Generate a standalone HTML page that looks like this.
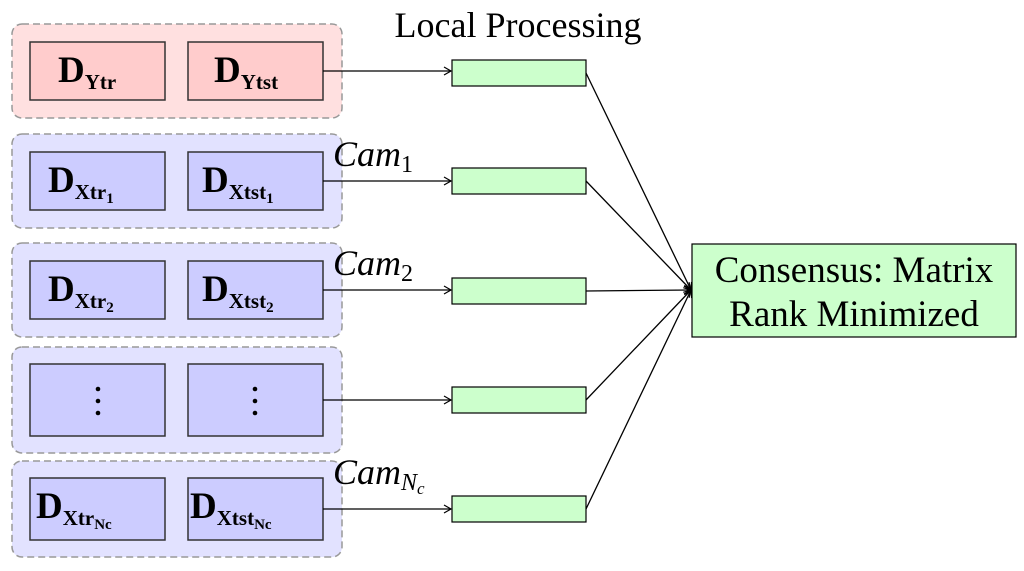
<!DOCTYPE html>
<html><head><style>body{margin:0;background:#fff}svg{display:block}</style></head><body>
<svg width="1024" height="571" viewBox="0 0 1024 571" xmlns="http://www.w3.org/2000/svg" font-family="Liberation Serif, serif">
<defs><marker id="a" markerWidth="10" markerHeight="10" refX="8" refY="5" orient="auto" markerUnits="userSpaceOnUse"><path d="M1,1 L8,5 L1,9" fill="none" stroke="#000" stroke-width="1.2"/></marker></defs>
<g stroke="#999" stroke-width="1.5" stroke-dasharray="7,4">
<rect x="12" y="24" width="330" height="94" rx="10" fill="#ffe0e0"/>
<rect x="12" y="134" width="330" height="94" rx="10" fill="#e2e2ff"/>
<rect x="12" y="243" width="330" height="94" rx="10" fill="#e2e2ff"/>
<rect x="12" y="347" width="330" height="106" rx="10" fill="#e2e2ff"/>
<rect x="12" y="461" width="330" height="96" rx="10" fill="#e2e2ff"/>
</g>
<g stroke="#333" stroke-width="1.5">
<rect x="30" y="42" width="135" height="58" fill="#ffcccc"/><rect x="188" y="42" width="135" height="58" fill="#ffcccc"/>
<rect x="30" y="152" width="135" height="58" fill="#ccccff"/><rect x="188" y="152" width="135" height="58" fill="#ccccff"/>
<rect x="30" y="261" width="135" height="58" fill="#ccccff"/><rect x="188" y="261" width="135" height="58" fill="#ccccff"/>
<rect x="30" y="364" width="135" height="72" fill="#ccccff"/><rect x="188" y="364" width="135" height="72" fill="#ccccff"/>
<rect x="30" y="478" width="135" height="62" fill="#ccccff"/><rect x="188" y="478" width="135" height="62" fill="#ccccff"/>
</g>
<g stroke="#000" stroke-width="1.2" fill="#ccffcc">
<rect x="452" y="60" width="134" height="26"/><rect x="452" y="168" width="134" height="26"/><rect x="452" y="278" width="134" height="26"/><rect x="452" y="387" width="134" height="26"/><rect x="452" y="496" width="134" height="26"/>
<rect x="692" y="244" width="324" height="93"/>
</g>
<g stroke="#000" stroke-width="1.3" marker-end="url(#a)">
<line x1="323" y1="71" x2="451" y2="71"/><line x1="323" y1="181" x2="451" y2="181"/><line x1="323" y1="290" x2="451" y2="290"/><line x1="323" y1="400" x2="451" y2="400"/><line x1="323" y1="509" x2="451" y2="509"/>
<line x1="586" y1="73" x2="691" y2="290"/><line x1="586" y1="181" x2="691" y2="290"/><line x1="586" y1="291" x2="691" y2="290"/><line x1="586" y1="400" x2="691" y2="290"/><line x1="586" y1="509" x2="691" y2="290"/>
</g>
<text x="518" y="37" font-size="36" text-anchor="middle">Local Processing</text>
<text x="854" y="282" font-size="37" text-anchor="middle">Consensus: Matrix</text>
<text x="854" y="326" font-size="37" text-anchor="middle">Rank Minimized</text>
<g font-weight="bold" font-size="37">
<text x="58" y="82">D<tspan font-size="21" dy="7">Ytr</tspan></text>
<text x="214" y="82">D<tspan font-size="21" dy="7">Ytst</tspan></text>
<text x="48" y="192">D<tspan font-size="21" dy="7">Xtr</tspan><tspan font-size="15" dy="4">1</tspan></text>
<text x="202" y="192">D<tspan font-size="21" dy="7">Xtst</tspan><tspan font-size="15" dy="4">1</tspan></text>
<text x="48" y="301">D<tspan font-size="21" dy="7">Xtr</tspan><tspan font-size="15" dy="4">2</tspan></text>
<text x="202" y="301">D<tspan font-size="21" dy="7">Xtst</tspan><tspan font-size="15" dy="4">2</tspan></text>
<text x="36" y="518">D<tspan font-size="21" dy="7">Xtr</tspan><tspan font-size="15" dy="4">Nc</tspan></text>
<text x="190" y="518">D<tspan font-size="21" dy="7">Xtst</tspan><tspan font-size="15" dy="4">Nc</tspan></text>
</g>
<g fill="#000"><circle cx="98" cy="389" r="2.3"/><circle cx="98" cy="401" r="2.3"/><circle cx="98" cy="413" r="2.3"/><circle cx="255" cy="389" r="2.3"/><circle cx="255" cy="401" r="2.3"/><circle cx="255" cy="413" r="2.3"/></g>
<g font-style="italic" font-size="36">
<text x="333" y="166">Cam<tspan font-style="normal" font-size="24" dy="6">1</tspan></text>
<text x="333" y="275">Cam<tspan font-style="normal" font-size="24" dy="6">2</tspan></text>
<text x="333" y="484">Cam<tspan font-size="24" dy="6">N</tspan><tspan font-size="17" dy="4">c</tspan></text>
</g>
</svg>
</body></html>
